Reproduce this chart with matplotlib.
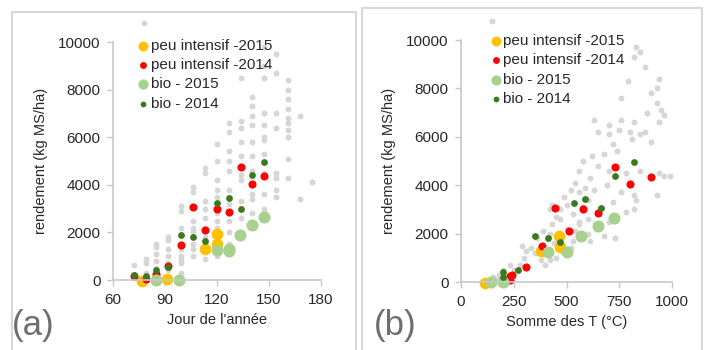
import matplotlib
matplotlib.use("Agg")
import matplotlib.pyplot as plt
from matplotlib.patches import Rectangle

plt.rcParams["font.family"] = ["Liberation Sans", "DejaVu Sans"]

# --- (a) yield vs day of year ---
jour_gris = ([72] * 3 + [79] * 5 + [85] * 6 + [92] * 7 + [99] * 9 + [106] * 8 + [113] * 10
             + [120] * 10 + [127] * 11 + [134] * 11 + [140] * 11 + [147] * 11 + [154] * 8
             + [161] * 10 + [168] * 2 + [175] + [78])
rend_gris_a = [650, 200, 100,
               300, 700, 900, 150, 50,
               200, 500, 800, 1100, 1500, 1400,
               400, 700, 1000, 1300, 1700, 1800, 600,
               300, 700, 1000, 1500, 2200, 2900, 3100, 1300, 900,
               1000, 1500, 2000, 2500, 3700, 3900, 1300, 2200,
               900, 1300, 1800, 2200, 2600, 3000, 4500, 4700, 3300, 1500,
               1000, 1600, 2200, 2800, 3500, 4200, 5000, 5700, 3800, 2500,
               1500, 2000, 2500, 3200, 3800, 4600, 5000, 5400, 6200, 6600, 2800,
               1800, 2600, 3300, 4200, 4400, 5200, 5800, 6400, 6700, 8500, 3000,
               2800, 3600, 4000, 4600, 5200, 5800, 6500, 6900, 7300, 7700, 3400,
               3000, 3600, 4500, 5300, 5900, 6500, 7000, 8500, 9000, 9800, 6000,
               3500, 3800, 4300, 4500, 6400, 7000, 8700, 9500,
               4300, 5100, 6000, 6800, 7200, 7600, 8000, 8400, 6600, 6300,
               3400, 6900,
               4100,
               10800]

jour_pi15 = [77, 91, 113, 120, 120]
rend_pi15_a = [-50, 50, 1300, 1500, 1950]
jour_pi14 = [72, 79, 85, 92, 99, 106, 113, 120, 127, 134, 140, 147]
rend_pi14_a = [150, 30, 250, 600, 1450, 3050, 2100, 3000, 2850, 4750, 4050, 4350]
jour_bio15 = [85, 98, 120, 127, 127, 133, 140, 147]
rend_bio15_a = [0, -20, 1250, 1200, 1300, 1900, 2300, 2650]
jour_bio14 = [72, 79, 85, 92, 99, 106, 113, 120, 127, 134, 140, 147]
rend_bio14_a = [200, 150, 400, 550, 1900, 1800, 1650, 3250, 3450, 3000, 4400, 4950]

# --- (b) yield vs temperature sum ---
temp_gris = [145, 830, 850, 820, 870, 790, 940, 930, 900, 760, 930, 950, 880, 960, 820,
             700, 750, 800, 870, 940, 900, 850, 810, 650, 630, 700, 760, 720, 680, 740,
             580, 620, 650, 700, 780, 850, 940, 990, 960, 930, 830, 820, 760, 690, 610,
             560, 540, 520, 490, 560, 600, 500, 470, 450, 530, 560, 600, 640, 700, 680,
             730, 560, 430, 420, 390, 360, 330, 350, 300, 280, 250, 200, 180, 150, 170,
             230, 290, 400, 420, 450, 480, 520, 530, 460, 380, 310, 500, 470, 540, 610,
             600, 660, 720, 780, 820, 590, 630, 580, 470, 440, 420, 430]
rend_gris_b = [10800, 9700, 9500, 9300, 8900, 8300, 8400, 8000, 7800, 7600, 7400, 7100, 7000, 6900, 6600,
               6500, 6300, 6200, 6200, 6600, 5800, 6100, 5900, 6200, 6700, 6100, 6700, 5700, 5300, 5400,
               5000, 5200, 4800, 4600, 4500, 4600, 4500, 4400, 4400, 3600, 3400, 3000, 3700, 4000, 4300,
               4600, 4100, 3800, 3500, 3700, 3400, 3200, 3000, 2700, 2800, 2500, 2600, 2200, 2500, 1900,
               1800, 2400, 2400, 2000, 2100, 1800, 1400, 1200, 1000, 700, 500, 500, 300, 200, 100,
               700, 1500, 700, 900, 1000, 1300, 1400, 1700, 1600, 900, 1300, 2200, 2600, 2100, 1700,
               2000, 3000, 3300, 2900, 3600, 3900, 3800, 3100, 2000, 1600, 3000, 3200]

temp_pi15 = [115, 380, 465, 470]
rend_pi15_b = [-30, 1300, 1900, 1450]
temp_pi14 = [230, 230, 240, 310, 385, 445, 510, 580, 650, 730, 800, 900]
rend_pi14_b = [100, 250, 300, 600, 1500, 3050, 2100, 3000, 2850, 4750, 4050, 4350]
temp_bio15 = [140, 200, 410, 500, 570, 650, 725]
rend_bio15_b = [0, 0, 1250, 1250, 1900, 2300, 2650]
temp_bio14 = [200, 200, 270, 350, 410, 470, 535, 590, 665, 730, 820]
rend_bio14_b = [400, 200, 500, 1900, 1800, 1650, 3250, 3450, 3050, 4400, 4950]

series_labels = ["peu intensif -2015", "peu intensif -2014", "bio - 2015", "bio - 2014"]
gris = "#d6d6d6"
couleurs = ["#ffc000", "#ff0000", "#a9d18e", "#3a7a1f"]
tailles = [70, 34, 75, 24]
txt = "#282828"

fig = plt.figure(figsize=(7.06, 3.5), dpi=100)
W, H = 706, 350

# light frames around each panel
for x0, y0, x1, y1 in [(12, 12, 356, 352), (362, 8, 702, 352)]:
    fig.add_artist(Rectangle((x0 / W, 1 - y1 / H), (x1 - x0) / W, (y1 - y0) / H,
                             transform=fig.transFigure, fill=False,
                             edgecolor="#d8d8d8", linewidth=1.5))


def panneau(rect, xg, yg, series, xlim, xticks, xlabel, tag, tag_x, leg_anchor):
    ax = fig.add_axes(rect)
    ax.scatter(xg, yg, s=18, color=gris, linewidths=0, clip_on=False, zorder=1)
    handles = []
    for (xs, ys), lab, c, s in zip(series, series_labels, couleurs, tailles):
        h = ax.scatter(xs, ys, s=s, color=c, linewidths=0, clip_on=False, zorder=2, label=lab)
        handles.append(h)
    ax.set_xlim(*xlim)
    ax.set_ylim(0, 10000)
    ax.set_xticks(xticks)
    ax.set_yticks(range(0, 10001, 2000))
    for side in ["top", "right"]:
        ax.spines[side].set_visible(False)
    for side in ["left", "bottom"]:
        ax.spines[side].set_color("#c8c8c8")
        ax.spines[side].set_linewidth(1.2)
    ax.tick_params(colors="#c8c8c8", labelcolor=txt, labelsize=11, length=4, width=1, pad=5)
    ax.set_xlabel(xlabel, fontsize=10.5, color=txt, labelpad=5)
    ax.set_ylabel("rendement (kg MS/ha)", fontsize=10.5, color=txt, labelpad=7)
    ax.legend(handles=handles, loc="upper left", bbox_to_anchor=leg_anchor, frameon=False,
              fontsize=11, handletextpad=0.0, labelspacing=0.35, borderaxespad=0,
              handlelength=1.0, markerscale=0.85, labelcolor=txt)
    fig.text(tag_x / W, 1 - 325 / H, tag, fontsize=25, color="#6e6e6e", va="center")
    return ax


panneau([113 / W, 1 - 280 / H, 208 / W, 238 / H], jour_gris, rend_gris_a,
        [(jour_pi15, rend_pi15_a), (jour_pi14, rend_pi14_a),
         (jour_bio15, rend_bio15_a), (jour_bio14, rend_bio14_a)],
        (60, 180), range(60, 181, 30), "Jour de l'année", "(a)", 12, (0.08, 1.04))

panneau([461 / W, 1 - 282 / H, 211 / W, 242 / H], temp_gris, rend_gris_b,
        [(temp_pi15, rend_pi15_b), (temp_pi14, rend_pi14_b),
         (temp_bio15, rend_bio15_b), (temp_bio14, rend_bio14_b)],
        (0, 1000), range(0, 1001, 250), "Somme des T (°C)", "(b)", 374, (0.1, 1.05))

fig.savefig("out.png", dpi=100)
